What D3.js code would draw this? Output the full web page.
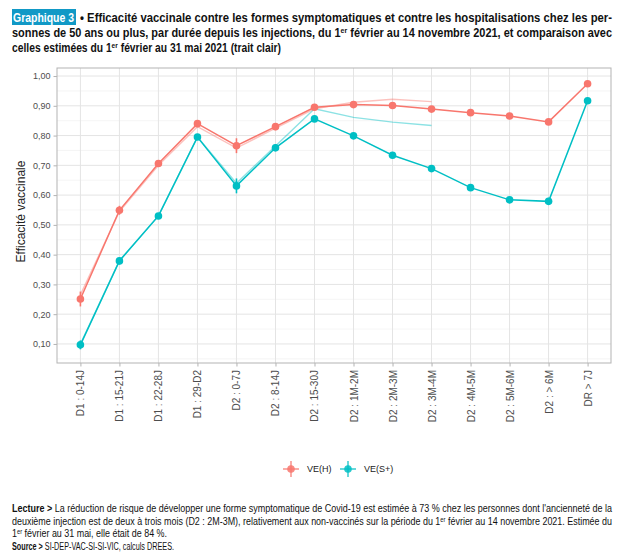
<!DOCTYPE html>
<html>
<head>
<meta charset="utf-8">
<script src="https://cdn.jsdelivr.net/npm/d3@7"></script>
<style>
  body { margin: 0; background: #fff; }
  svg { display: block; }
</style>
</head>
<body>
<div id="canvas"><svg width="625" height="560"></svg></div>
<script>
// categories (time since injection)
var categories = ["D1 : 0-14J", "D1 : 15-21J", "D1 : 22-28J", "D1 : 29-D2", "D2 : 0-7J", "D2 : 8-14J",
  "D2 : 15-30J", "D2 : 1M-2M", "D2 : 2M-3M", "D2 : 3M-4M", "D2 : 4M-5M", "D2 : 5M-6M", "D2 : > 6M", "DR > 7J"];

// VE(H) and VE(S+), 1 feb - 14 nov 2021
var veH = [0.251, 0.549, 0.706, 0.840, 0.766, 0.830, 0.895, 0.904, 0.901, 0.889, 0.877, 0.866, 0.846, 0.974];
var veS = [0.097, 0.379, 0.530, 0.795, 0.631, 0.759, 0.856, 0.799, 0.734, 0.689, 0.625, 0.584, 0.579, 0.917];
// half width of the confidence intervals
var ciH = [0.025, 0.015, 0.010, 0.010, 0.025, 0.012, 0.008, 0.005, 0.005, 0.005, 0.005, 0.005, 0.006, 0.006];
var ciS = [0.015, 0.012, 0.010, 0.010, 0.025, 0.012, 0.008, 0.005, 0.005, 0.005, 0.006, 0.010, 0.012, 0.008];

// earlier estimates, 1 feb - 31 may 2021 (light lines)
var veHold = [0.265, 0.545, 0.700, 0.830, 0.758, 0.825, 0.890, 0.912, 0.922, 0.914];
var veSold = [0.100, 0.380, 0.530, 0.795, 0.640, 0.765, 0.890, 0.861, 0.845, 0.834];

var yTicks = [0.1, 0.2, 0.3, 0.4, 0.5, 0.6, 0.7, 0.8, 0.9, 1.0];
var yMinor = [0.05, 0.15, 0.25, 0.35, 0.45, 0.55, 0.65, 0.75, 0.85, 0.95];

var colH = "#F8766D", colS = "#00BFC4";

var svg = d3.select("#canvas svg");
var fmt = function (v) { return d3.format(".2f")(v).replace(".", ","); };

var pLeft = 57, pRight = 611, pTop = 68, pBottom = 363;

var x = d3.scalePoint().domain(categories).range([pLeft, pRight]).padding(0.6);
var y = d3.scaleLinear().domain([0.036, 1.027]).range([pBottom, pTop]);

// title
var title = svg.append("g").attr("font-family", "'Liberation Sans Narrow', 'Arial Narrow', 'Liberation Sans', sans-serif")
  .attr("font-weight", "bold").attr("font-size", 12.5).attr("fill", "#111");
title.append("rect").attr("x", 12).attr("y", 9).attr("width", 64).attr("height", 16).attr("fill", "#1199c6");
title.append("text").attr("x", 13).attr("y", 21.5).attr("fill", "#fff").attr("textLength", 61)
  .attr("lengthAdjust", "spacingAndGlyphs").text("Graphique 3");
title.append("text").attr("x", 80).attr("y", 21.5).attr("textLength", 532).attr("lengthAdjust", "spacingAndGlyphs")
  .text("• Efficacité vaccinale contre les formes symptomatiques et contre les hospitalisations chez les per-");
var t2 = title.append("text").attr("x", 12).attr("y", 36.5).attr("textLength", 600).attr("lengthAdjust", "spacingAndGlyphs");
t2.append("tspan").text("sonnes de 50 ans ou plus, par durée depuis les injections, du 1");
t2.append("tspan").attr("font-size", 8).attr("dy", -4).text("er");
t2.append("tspan").attr("dy", 4).text(" février au 14 novembre 2021, et comparaison avec");
var t3 = title.append("text").attr("x", 12).attr("y", 51.5).attr("textLength", 269).attr("lengthAdjust", "spacingAndGlyphs");
t3.append("tspan").text("celles estimées du 1");
t3.append("tspan").attr("font-size", 8).attr("dy", -4).text("er");
t3.append("tspan").attr("dy", 4).text(" février au 31 mai 2021 (trait clair)");

// grid
var grid = svg.append("g");
grid.selectAll(".minor").data(yMinor).enter().append("line")
  .attr("x1", pLeft).attr("x2", pRight).attr("y1", function (d) { return y(d); }).attr("y2", function (d) { return y(d); })
  .attr("stroke", "#f0f0f0").attr("stroke-width", 0.7);
grid.selectAll(".major").data(yTicks).enter().append("line")
  .attr("x1", pLeft).attr("x2", pRight).attr("y1", function (d) { return y(d); }).attr("y2", function (d) { return y(d); })
  .attr("stroke", "#e4e4e4").attr("stroke-width", 1);
grid.selectAll(".vert").data(categories).enter().append("line")
  .attr("x1", function (d) { return x(d); }).attr("x2", function (d) { return x(d); })
  .attr("y1", pTop).attr("y2", pBottom).attr("stroke", "#e4e4e4").attr("stroke-width", 1);

// axes
var yAxis = svg.append("g").attr("transform", "translate(" + pLeft + ",0)")
  .call(d3.axisLeft(y).tickValues(yTicks).tickFormat(fmt).tickSize(3.5).tickPadding(3));
var xAxis = svg.append("g").attr("transform", "translate(0," + pBottom + ")")
  .call(d3.axisBottom(x).tickSize(3.5).tickPadding(3));
[yAxis, xAxis].forEach(function (a) {
  a.select(".domain").remove();
  a.selectAll(".tick line").attr("stroke", "#b3b3b3");
  a.selectAll(".tick text").attr("fill", "#4d4d4d").attr("font-size", 9)
    .attr("font-family", "'Liberation Sans', Arial, sans-serif");
});
xAxis.selectAll(".tick text").attr("transform", "rotate(-90)").attr("text-anchor", "end")
  .attr("font-size", 10).attr("x", -7).attr("y", 0).attr("dy", "0.35em");

// panel border
svg.append("rect").attr("x", pLeft).attr("y", pTop).attr("width", pRight - pLeft).attr("height", pBottom - pTop)
  .attr("fill", "none").attr("stroke", "#b3b3b3").attr("stroke-width", 1);

// y title
svg.append("text").attr("transform", "translate(25," + ((pTop + pBottom) / 2 - 4) + ") rotate(-90)")
  .attr("text-anchor", "middle").attr("font-size", 12).attr("fill", "#222")
  .attr("font-family", "'Liberation Sans', Arial, sans-serif").text("Efficacité vaccinale");

var line = d3.line().x(function (d, i) { return x(categories[i]); }).y(function (d) { return y(d); });

// light lines
svg.append("path").datum(veHold).attr("d", line).attr("fill", "none").attr("stroke", colH)
  .attr("stroke-opacity", 0.45).attr("stroke-width", 1.4);
svg.append("path").datum(veSold).attr("d", line).attr("fill", "none").attr("stroke", colS)
  .attr("stroke-opacity", 0.45).attr("stroke-width", 1.4);

function series(vals, ci, col) {
  var g = svg.append("g");
  g.selectAll("line").data(vals).enter().append("line")
    .attr("x1", function (d, i) { return x(categories[i]); }).attr("x2", function (d, i) { return x(categories[i]); })
    .attr("y1", function (d, i) { return y(d - ci[i]); }).attr("y2", function (d, i) { return y(d + ci[i]); })
    .attr("stroke", col).attr("stroke-width", 1.6);
  g.append("path").datum(vals).attr("d", line).attr("fill", "none").attr("stroke", col).attr("stroke-width", 1.5);
  g.selectAll("circle").data(vals).enter().append("circle")
    .attr("cx", function (d, i) { return x(categories[i]); }).attr("cy", function (d) { return y(d); })
    .attr("r", 3.8).attr("fill", col);
}
series(veH, ciH, colH);
series(veS, ciS, colS);

// legend
var legend = svg.append("g").attr("font-family", "'Liberation Sans', Arial, sans-serif").attr("font-size", 9).attr("fill", "#222");
var keys = [{ name: "VE(H)", col: colH, x: 291 }, { name: "VE(S+)", col: colS, x: 348 }];
keys.forEach(function (k) {
  var cy = 469;
  legend.append("line").attr("x1", k.x - 8).attr("x2", k.x + 8).attr("y1", cy).attr("y2", cy)
    .attr("stroke", k.col).attr("stroke-width", 1.5).attr("stroke-opacity", 0.8);
  legend.append("line").attr("x1", k.x).attr("x2", k.x).attr("y1", cy - 8).attr("y2", cy + 8)
    .attr("stroke", k.col).attr("stroke-width", 1.5).attr("stroke-opacity", 0.8);
  legend.append("circle").attr("cx", k.x).attr("cy", cy).attr("r", 3.8).attr("fill", k.col).attr("fill-opacity", 0.85);
  legend.append("text").attr("x", k.x + 16).attr("y", cy + 3.2).text(k.name);
});

// footer
var foot = svg.append("g").attr("font-family", "'Liberation Sans Narrow', 'Arial Narrow', 'Liberation Sans', sans-serif")
  .attr("font-size", 10).attr("fill", "#111");
var f1 = foot.append("text").attr("x", 12).attr("y", 512).attr("textLength", 600).attr("lengthAdjust", "spacingAndGlyphs");
f1.append("tspan").attr("font-weight", "bold").text("Lecture >");
f1.append("tspan").text(" La réduction de risque de développer une forme symptomatique de Covid-19 est estimée à 73 % chez les personnes dont l'ancienneté de la");
var f2 = foot.append("text").attr("x", 12).attr("y", 524.5).attr("textLength", 600).attr("lengthAdjust", "spacingAndGlyphs");
f2.append("tspan").text("deuxième injection est de deux à trois mois (D2 : 2M-3M), relativement aux non-vaccinés sur la période du 1");
f2.append("tspan").attr("font-size", 6.5).attr("dy", -3).text("er");
f2.append("tspan").attr("dy", 3).text(" février au 14 novembre 2021. Estimée du");
var f3 = foot.append("text").attr("x", 12).attr("y", 537).attr("textLength", 155).attr("lengthAdjust", "spacingAndGlyphs");
f3.append("tspan").text("1");
f3.append("tspan").attr("font-size", 6.5).attr("dy", -3).text("er");
f3.append("tspan").attr("dy", 3).text(" février au 31 mai, elle était de 84 %.");
var f4 = foot.append("text").attr("x", 12).attr("y", 549.5).attr("textLength", 162).attr("lengthAdjust", "spacingAndGlyphs");
f4.append("tspan").attr("font-weight", "bold").text("Source >");
f4.append("tspan").text(" SI-DEP-VAC-SI-SI-VIC, calculs DREES.");
</script>
</body>
</html>
